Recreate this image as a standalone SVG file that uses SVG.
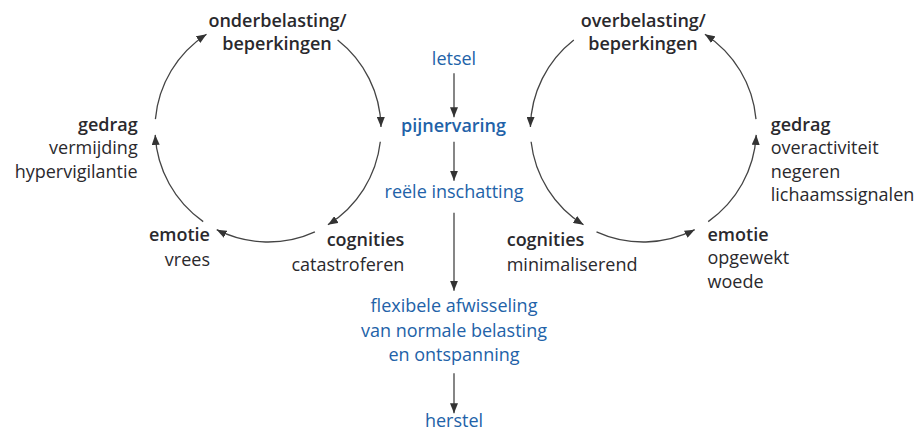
<svg xmlns="http://www.w3.org/2000/svg" width="920" height="433" viewBox="0 0 920 433">
<defs>
<marker id="ah" viewBox="0 0 10 8" refX="10" refY="4" markerWidth="10" markerHeight="8" markerUnits="userSpaceOnUse" orient="auto">
<path d="M0,0 L10,4 L0,8 z" fill="#333"/>
</marker>
<style>
text{font-family:"Open Sans","Noto Sans","DejaVu Sans",sans-serif;font-size:18px;fill:#2a292d}
.b{font-weight:600}
.bl{fill:#2262a8}
.m{text-anchor:middle}
.e{text-anchor:end}
.c{fill:none;stroke:#444;stroke-width:1.3;marker-end:url(#ah)}
</style>
</defs>
<rect width="920" height="433" fill="#fff"/>
<g id="connectors">
<path class="c" d="M155.4,119.1 A113,113 0 0 1 206.5,34.2"/>
<path class="c" d="M337.6,40 A113,113 0 0 1 381,127"/>
<path class="c" d="M380.3,141.8 A113,113 0 0 1 327.9,224.8"/>
<path class="c" d="M314.9,231.8 A113,113 0 0 1 216.7,229.7"/>
<path class="c" d="M203.2,221.6 A113,113 0 0 1 155.2,134.9"/>
<path class="c" d="M573.8,40 A113,113 0 0 0 530.4,127"/>
<path class="c" d="M531.1,141.8 A113,113 0 0 0 583.5,224.8"/>
<path class="c" d="M596.5,231.8 A113,113 0 0 0 694.7,229.7"/>
<path class="c" d="M708.2,221.6 A113,113 0 0 0 756.2,134.9"/>
<path class="c" d="M756,119.1 A113,113 0 0 0 704.9,34.2"/>
<path class="c" d="M454,73.3 L454,117.3"/>
<path class="c" d="M454,141.7 L454,180.7"/>
<path class="c" d="M454,212.7 L454,290.7"/>
<path class="c" d="M454,373.3 L454,413.3"/>
</g>
<g id="onderbelasting">
<text class="b m" x="277.5" y="26.7">onderbelasting/</text>
<text class="b m" x="277" y="50">beperkingen</text>
</g>
<g id="gedrag-links">
<text class="b e" x="137.7" y="130.5">gedrag</text>
<text class="e" x="137.7" y="154">vermijding</text>
<text class="e" x="137.7" y="177.5">hypervigilantie</text>
</g>
<g id="emotie-links">
<text class="b e" x="210" y="240.5">emotie</text>
<text class="e" x="210" y="265.5">vrees</text>
</g>
<g id="cognities-links">
<text class="b e" x="404.3" y="245.7">cognities</text>
<text class="e" x="404.3" y="270.7">catastroferen</text>
</g>
<g id="overbelasting">
<text class="b m" x="643.3" y="26.7">overbelasting/</text>
<text class="b m" x="643" y="50">beperkingen</text>
</g>
<g id="gedrag-rechts">
<text class="b" x="770.7" y="130.5">gedrag</text>
<text x="770.7" y="154">overactiviteit</text>
<text x="770.7" y="177.5">negeren</text>
<text x="770.7" y="201">lichaamssignalen</text>
</g>
<g id="emotie-rechts">
<text class="b" x="707.5" y="240.5">emotie</text>
<text x="707.5" y="264">opgewekt</text>
<text x="707.5" y="287.5">woede</text>
</g>
<g id="cognities-rechts">
<text class="b" x="506.7" y="245.7">cognities</text>
<text x="506.7" y="270.7">minimaliserend</text>
</g>
<g id="letsel">
<text class="bl m" x="454" y="65">letsel</text>
</g>
<g id="pijnervaring">
<text class="b bl m" x="453.5" y="131.7">pijnervaring</text>
</g>
<g id="reele-inschatting">
<text class="bl m" x="454" y="198.3">reële inschatting</text>
</g>
<g id="flexibele-afwisseling">
<text class="bl m" x="454" y="312">flexibele afwisseling</text>
<text class="bl m" x="454" y="336.5">van normale belasting</text>
<text class="bl m" x="454" y="361">en ontspanning</text>
</g>
<g id="herstel">
<text class="bl m" x="454" y="427">herstel</text>
</g>
</svg>
